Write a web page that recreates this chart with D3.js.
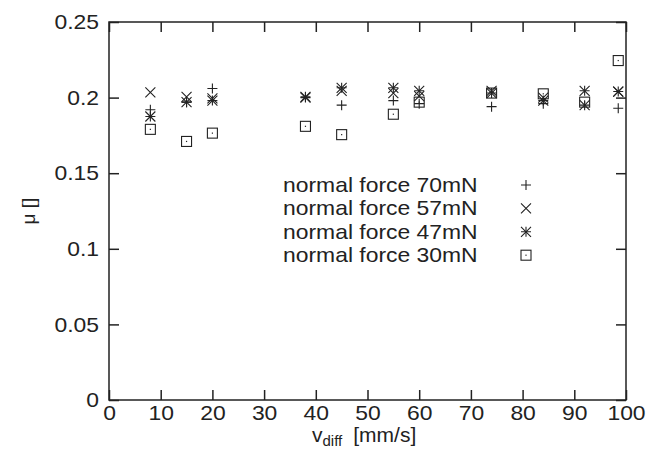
<!DOCTYPE html>
<html>
<head>
<meta charset="utf-8">
<script src="https://cdn.jsdelivr.net/npm/d3@7"></script>
<style>
  body { margin: 0; background: #fff; }
  text { font-family: "Liberation Sans", Arial, sans-serif; fill: #222; }
</style>
</head>
<body>
<div id="chart"></div>
<script>
// data
var speeds = [8, 15, 20, 38, 45, 55, 60, 74, 84, 92, 98.5];
var force70 = [0.192, 0.197, 0.206, 0.200, 0.195, 0.198, 0.196, 0.194, 0.196, 0.195, 0.193];
var force57 = [0.2035, 0.2005, 0.1995, 0.200, 0.2045, 0.203, 0.201, 0.2045, 0.200, 0.195, 0.204];
var force47 = [0.1875, 0.197, 0.198, 0.2005, 0.2065, 0.2065, 0.2045, 0.203, 0.198, 0.2045, 0.204];
var force30 = [0.179, 0.171, 0.1765, 0.181, 0.1755, 0.189, 0.197, 0.203, 0.2025, 0.197, 0.2245];
var seriesNames = ["normal force 70mN", "normal force 57mN", "normal force 47mN", "normal force 30mN"];
var xTicks = [0, 10, 20, 30, 40, 50, 60, 70, 80, 90, 100];
var yTicks = [0, 0.05, 0.1, 0.15, 0.2, 0.25];

var W = 646, H = 465;
// plot box (note: "top" is taken by window.top)
var pLeft = 109, pRight = 626, pTop = 22, pBottom = 400;
var stretch = 1.09; // the text in the picture is a bit wider than Liberation Sans

var svg = d3.select("#chart").append("svg")
    .attr("width", W)
    .attr("height", H);

var x = d3.scaleLinear().domain([0, 100]).range([pLeft, pRight]);
var y = d3.scaleLinear().domain([0, 0.25]).range([pBottom, pTop]);

var ink = "#222";

// frame
svg.append("rect")
    .attr("x", pLeft).attr("y", pTop)
    .attr("width", pRight - pLeft).attr("height", pBottom - pTop)
    .attr("fill", "none").attr("stroke", ink).attr("stroke-width", 1.5);

// axes with inward ticks
var fmtY = function(d) { return d === 0 ? "0" : String(+d.toFixed(2)); };
svg.append("g").attr("transform", "translate(0," + pBottom + ")")
    .call(d3.axisBottom(x).tickValues(xTicks).tickSize(-10).tickPadding(5).tickFormat(d3.format("d")));
svg.append("g").attr("transform", "translate(" + pLeft + ",0)")
    .call(d3.axisLeft(y).tickValues(yTicks).tickSize(-10).tickPadding(10).tickFormat(fmtY));
svg.append("g").attr("transform", "translate(0," + pTop + ")")
    .call(d3.axisTop(x).tickValues(xTicks).tickSize(-10).tickFormat(""));
svg.append("g").attr("transform", "translate(" + pRight + ",0)")
    .call(d3.axisRight(y).tickValues(yTicks).tickSize(-10).tickFormat(""));

svg.selectAll(".domain").remove();
svg.selectAll(".tick line").attr("stroke", ink).attr("stroke-width", 1.5);
svg.selectAll(".tick text")
    .style("font-family", "'Liberation Sans', Arial, sans-serif")
    .style("font-size", "21px").attr("fill", ink);

// axis titles
svg.append("text")
    .attr("transform", "translate(35,211) rotate(-90)")
    .attr("text-anchor", "middle")
    .style("font-size", "19px")
    .text("\u03bc []");

var xl = svg.append("text").attr("x", 312).attr("y", 442).style("font-size", "21px");
xl.append("tspan").text("v");
xl.append("tspan").attr("dy", 4).style("font-size", "15px").text("diff");
xl.append("tspan").attr("dy", -4).attr("dx", 11).text("[mm/s]");

// marker shapes
var sz = 5;
function plus(g) {
  g.append("path").attr("d", "M" + (-sz) + ",0H" + sz + "M0," + (-sz) + "V" + sz);
}
function cross(g) {
  g.append("path").attr("d", "M" + (-sz) + "," + (-sz) + "L" + sz + "," + sz + "M" + (-sz) + "," + sz + "L" + sz + "," + (-sz));
}
function star(g) {
  plus(g); cross(g);
}
function box(g) {
  g.append("rect").attr("x", -sz).attr("y", -sz).attr("width", 2 * sz).attr("height", 2 * sz).attr("fill", "none");
  g.append("rect").attr("x", -0.6).attr("y", -0.6).attr("width", 1.2).attr("height", 1.2).attr("fill", ink).attr("stroke", "none");
}
var shapes = [plus, cross, star, box];
var series = [force70, force57, force47, force30];

series.forEach(function(vals, i) {
  var pts = svg.append("g").attr("stroke", ink).attr("stroke-width", 1.1).attr("fill", "none")
    .selectAll("g").data(vals).enter().append("g")
    .attr("transform", function(d, j) { return "translate(" + x(speeds[j]) + "," + y(d) + ")"; });
  pts.each(function() { shapes[i](d3.select(this)); });
});

// legend
var legend = svg.append("g");
seriesNames.forEach(function(name, i) {
  var cy = 185 + i * 23.4;
  legend.append("text")
    .attr("x", 283).attr("y", cy + 7)
    .style("font-size", "21px")
    .text(name);
  var g = legend.append("g").attr("transform", "translate(526," + cy + ")")
    .attr("stroke", ink).attr("stroke-width", 1.1).attr("fill", "none");
  shapes[i](g);
});

// widen single-run texts to match the picture
svg.selectAll(".tick text").each(function() {
  var t = d3.select(this);
  if (!t.text()) return;
  t.attr("textLength", this.getComputedTextLength() * stretch).attr("lengthAdjust", "spacingAndGlyphs");
});
legend.selectAll("text").each(function() {
  d3.select(this).attr("textLength", this.getComputedTextLength() * stretch).attr("lengthAdjust", "spacingAndGlyphs");
});
</script>
</body>
</html>
